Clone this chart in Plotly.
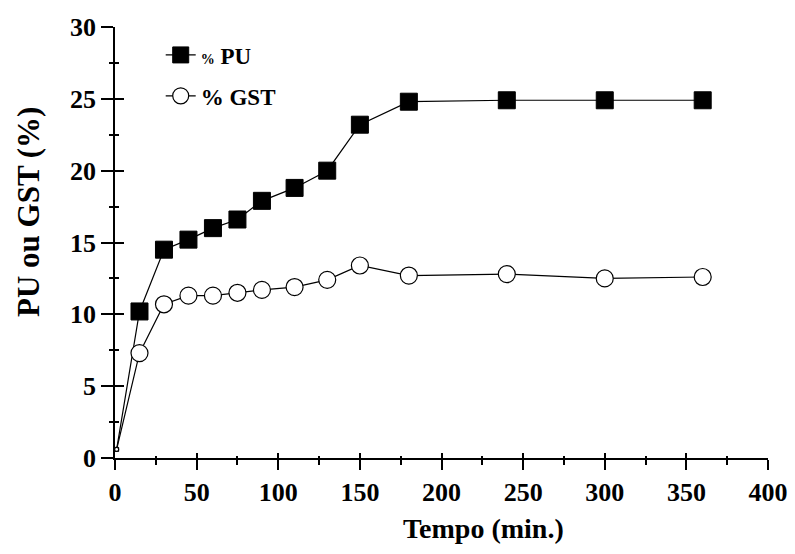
import plotly.graph_objects as go

tempo = [1, 15, 30, 45, 60, 75, 90, 110, 130, 150, 180, 240, 300, 360]
pu = [0.6, 10.2, 14.5, 15.2, 16.0, 16.6, 17.9, 18.8, 20.0, 23.2, 24.8, 24.9, 24.9, 24.9]
gst = [0.6, 7.3, 10.7, 11.3, 11.3, 11.5, 11.7, 11.9, 12.4, 13.4, 12.7, 12.8, 12.5, 12.6]

x_ticks = [0, 50, 100, 150, 200, 250, 300, 350, 400]
y_ticks = [0, 5, 10, 15, 20, 25, 30]

FONT = "Liberation Serif"
W, H = 795, 554
L, R, T, B = 115, 27, 27, 96
pw, ph = W - L - R, H - T - B

msize = [4] + [17] * (len(tempo) - 1)

fig = go.Figure()
fig.add_trace(go.Scatter(
    x=tempo, y=pu, mode="lines+markers",
    name="<b><span style='font-size:14px'>%</span> PU</b>",
    line=dict(color="black", width=1.2),
    marker=dict(symbol="square", size=msize, color="black", opacity=1, line=dict(color="black", width=1)),
    legendgroup="a", cliponaxis=False,
))
fig.add_trace(go.Scatter(
    x=tempo, y=gst, mode="lines+markers",
    name="<b>% GST</b>",
    line=dict(color="black", width=1.2),
    marker=dict(symbol="circle", size=msize, color="white", opacity=1, line=dict(color="black", width=1.2)),
    legendgroup="b", cliponaxis=False,
))
# empty trace to hold the overlaid axes (inside ticks)
fig.add_trace(go.Scatter(x=[None], y=[None], xaxis="x2", yaxis="y2", showlegend=False, hoverinfo="skip"))

axis_common = dict(showgrid=False, zeroline=False, showline=True, linecolor="black", linewidth=1.5,
                   tickcolor="black", tickwidth=1.5, automargin=False)

fig.update_layout(
    width=W, height=H,
    margin=dict(l=L, r=R, t=T, b=B, autoexpand=False),
    paper_bgcolor="white", plot_bgcolor="white",
    font=dict(family=FONT, size=22, color="black"),
    showlegend=True,
    legend=dict(x=0.07, y=0.985, xanchor="left", yanchor="top", bgcolor="rgba(0,0,0,0)",
                font=dict(family=FONT, size=23, color="black"), tracegroupgap=8),
    xaxis=dict(range=[0, 400], tickvals=x_ticks, ticktext=[f"<b>{v}</b>" for v in x_ticks],
               ticks="outside", ticklen=10,
               minor=dict(dtick=25, ticks="outside", ticklen=5, tickcolor="black", tickwidth=1.5),
               tickfont=dict(family=FONT, size=26), **axis_common),
    yaxis=dict(range=[0, 30], tickvals=y_ticks, ticktext=[f"<b>{v}</b>" for v in y_ticks],
               ticks="outside", ticklen=12,
               minor=dict(dtick=2.5, ticks="outside", ticklen=4, tickcolor="black", tickwidth=1.5),
               tickfont=dict(family=FONT, size=26), **axis_common),
    xaxis2=dict(range=[0, 400], overlaying="x", side="bottom", tickvals=x_ticks, showticklabels=False,
                ticks="inside", ticklen=5,
                minor=dict(dtick=25, ticks="inside", ticklen=2, tickcolor="black", tickwidth=1.5),
                **axis_common),
    yaxis2=dict(range=[0, 30], overlaying="y", side="left", tickvals=y_ticks, showticklabels=False,
                ticks="inside", ticklen=9,
                minor=dict(dtick=2.5, ticks="inside", ticklen=4, tickcolor="black", tickwidth=1.5),
                **axis_common),
    annotations=[
        dict(text="<b>Tempo (min.)</b>", x=(483 - L) / pw, y=(H - B - 528) / ph,
             xref="paper", yref="paper", xanchor="center", yanchor="middle",
             showarrow=False, font=dict(family=FONT, size=28)),
        dict(text="<b>PU ou GST (%)</b>", x=(28 - L) / pw, y=(H - B - 212) / ph,
             xref="paper", yref="paper", xanchor="center", yanchor="middle", textangle=-90,
             showarrow=False, font=dict(family=FONT, size=31)),
    ],
)

fig.write_html("out.html")
